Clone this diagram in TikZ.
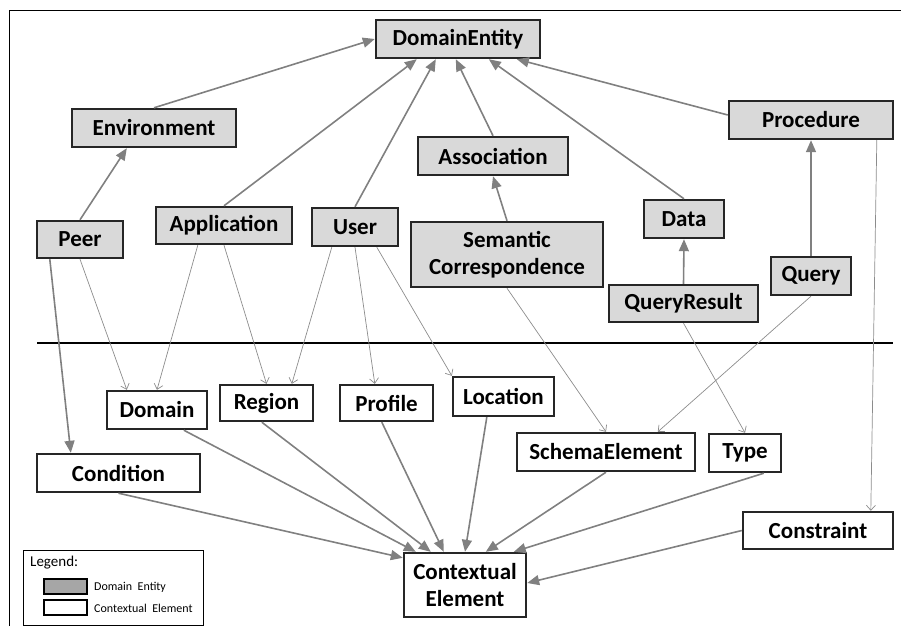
\documentclass[tikz,border=0pt]{standalone}
\usepackage{fontspec}
\setmainfont{Carlito}
\usetikzlibrary{arrows.meta,calc}
\definecolor{boxline}{HTML}{262626}
\definecolor{entityfill}{HTML}{D9D9D9}
\definecolor{linkgray}{HTML}{808080}
\definecolor{thingray}{HTML}{8C8C8C}
\definecolor{swatchgray}{HTML}{A6A6A6}

\tikzset{
  box/.style={draw=boxline, line width=2.4pt, inner sep=0pt, align=center,
    font=\fontsize{23}{26.5}\selectfont\bfseries},
  entity/.style={box, fill=entityfill},
  ctxel/.style={box, fill=white},
  isa/.style={draw=linkgray, line width=1.6pt, -{Triangle[length=12pt,width=10pt]}},
  uses/.style={draw=thingray, line width=0.7pt, -{Straight Barb[length=5pt,width=9pt]}},
  legtext/.style={anchor=west, inner sep=0pt, font=\fontsize{12}{14}\selectfont},
}

\begin{document}
\begin{tikzpicture}[x=1pt, y=-1pt]
\useasboundingbox (0,0) rectangle (901,626);

% outer frame
\draw[black, line width=0.8pt] (9,626) -- (9,10) -- (901,10);

% domain entities
\node[entity, minimum width=164pt, minimum height=38pt] (de)      at (458,39)    {DomainEntity};
\node[entity, minimum width=164pt, minimum height=38pt] (env)     at (154,128)   {Environment};
\node[entity, minimum width=86pt,  minimum height=37pt] (peer)    at (80,239.5)  {Peer};
\node[entity, minimum width=136pt, minimum height=37pt] (app)     at (224,225.5) {Application};
\node[entity, minimum width=86pt,  minimum height=38pt] (user)    at (355,227)   {User};
\node[entity, minimum width=150pt, minimum height=38pt] (assoc)   at (493,156)   {Association};
\node[entity, minimum width=192pt, minimum height=65pt] (semcorr) at (507,254.5) {Semantic\\Correspondence};
\node[entity, minimum width=80pt,  minimum height=38pt] (data)    at (684,219)   {Data};
\node[entity, minimum width=164pt, minimum height=38pt] (proc)    at (811,120)   {Procedure};
\node[entity, minimum width=80pt,  minimum height=38pt] (query)   at (811,276)   {Query};
\node[entity, minimum width=149pt, minimum height=37pt] (qres)    at (683.5,303.5) {QueryResult};

% separator
\draw[black, line width=2.5pt] (37,343) -- (893,343);

% contextual elements
\node[ctxel, minimum width=100pt, minimum height=38pt] (dom)    at (157,410)   {Domain};
\node[ctxel, minimum width=93pt,  minimum height=36pt] (reg)    at (266.5,403) {Region};
\node[ctxel, minimum width=93pt,  minimum height=36pt] (prof)   at (386.5,403) {Profile};
\node[ctxel, minimum width=101pt, minimum height=39pt] (loc)    at (503.5,396.5) {Location};
\node[ctxel, minimum width=163pt, minimum height=38pt] (cond)   at (118.5,473) {Condition};
\node[ctxel, minimum width=178pt, minimum height=38pt] (schema) at (606,452)   {SchemaElement};
\node[ctxel, minimum width=72pt,  minimum height=38pt] (type)   at (745,453)   {Type};
\node[ctxel, minimum width=150pt, minimum height=37pt] (cons)   at (818,530.5) {Constraint};
\node[ctxel, minimum width=122pt, minimum height=64pt] (ctx)    at (465,585)   {Contextual\\Element};

% generalisation links between domain entities
\draw[isa] (env.north) -- (de.west);
\draw[isa] (app.north) -- ($(de.south west)+(42,0)$);
\draw[isa] (user.north) -- ($(de.south west)+(61,0)$);
\draw[isa] (assoc.north) -- ($(de.south west)+(81,0)$);
\draw[isa] (data.north) -- ($(de.south west)+(114,0)$);
\draw[isa] ($(proc.west)+(0,-5)$) -- ($(de.south west)+(142,0)$);
\draw[isa] (peer.north) -- ($(env.south west)+(56,0)$);
\draw[isa] (semcorr.north) -- (assoc.south);
\draw[isa] (qres.north) -- (data.south);
\draw[isa] (query.north) -- (proc.south);
\draw[isa] ($(peer.south west)+(14,0)$) -- ($(cond.north west)+(35,0)$);

% links from domain entities to contextual elements
\draw[uses] (peer.south) -- ($(dom.north west)+(21,0)$);
\draw[uses] ($(app.south west)+(43,0)$) -- (dom.north);
\draw[uses] (app.south) -- (reg.north);
\draw[uses] ($(user.south west)+(21,0)$) -- ($(reg.north west)+(73,0)$);
\draw[uses] (user.south) -- ($(prof.north west)+(36,0)$);
\draw[uses] ($(user.south west)+(66,0)$) -- (loc.north west);
\draw[uses] (semcorr.south) -- (schema.north);
\draw[uses] (query.south) -- ($(schema.north west)+(142,0)$);
\draw[uses] (qres.south) -- (type.north);
\draw[uses] ($(proc.south west)+(149,0)$) -- ($(cons.north west)+(129,0)$);

% contextual elements specialise Contextual Element
\draw[isa] (cond.south) -- ($(ctx.north west)+(0,6)$);
\draw[isa] ($(dom.south west)+(78,0)$) -- ($(ctx.north west)+(13,0)$);
\draw[isa] ($(reg.south west)+(43,0)$) -- ($(ctx.north west)+(28,0)$);
\draw[isa] ($(prof.south west)+(43,0)$) -- ($(ctx.north west)+(41,0)$);
\draw[isa] ($(loc.south west)+(35,0)$) -- (ctx.north);
\draw[isa] (schema.south) -- ($(ctx.north west)+(83,0)$);
\draw[isa] ($(type.south west)+(56,0)$) -- ($(ctx.north west)+(111,0)$);
\draw[isa] (cons.west) -- ($(ctx.east)+(0,-2)$);

% legend
\node[draw=black, line width=1pt, minimum width=180pt, minimum height=75pt, inner sep=0pt] (legend) at (113,587.5) {};
\node[legtext, font=\fontsize{15}{17}\selectfont] (legtitle) at (30,563) {Legend:};
\node[draw=black, line width=2pt, fill=swatchgray, minimum width=43pt, minimum height=15pt, inner sep=0pt] (swde) at (65.5,586.5) {};
\node[draw=black, line width=2pt, fill=white, minimum width=43pt, minimum height=15pt, inner sep=0pt] (swce) at (65.5,607.5) {};
\node[legtext] (lblde) at (94,587) {Domain\ \ Entity};
\node[legtext] (lblce) at (94,608) {Contextual\ \ Element};
\end{tikzpicture}
\end{document}
